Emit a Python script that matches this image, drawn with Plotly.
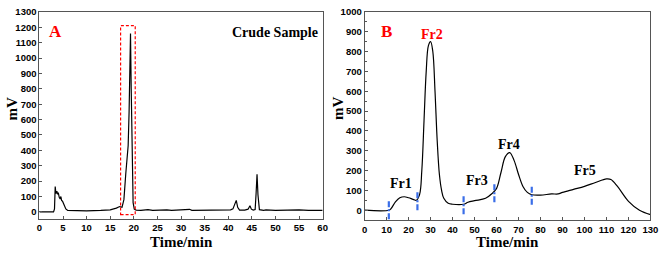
import plotly.graph_objects as go

# Panel A: crude sample chromatogram
a_time = [0, 3.0, 3.2, 3.35, 3.5, 3.7, 3.85, 4.0, 4.2, 4.4, 4.55, 4.7, 4.9, 5.2, 5.6, 6.0, 7, 10, 13, 15, 16.3, 17.0, 17.5,
          17.9, 18.3, 18.6, 18.8, 19.0, 19.15, 19.3, 19.45, 19.65, 19.85, 20.1, 20.5, 21.5, 23, 24, 27, 28, 31.8, 32.3,
          35, 38, 39, 40.5, 41.0, 41.4, 41.7, 42.0, 42.4, 43.5, 44.2, 44.6, 44.9, 45.3, 45.7, 45.9, 46.1, 46.3, 46.6,
          47.5, 48, 50, 52, 53.5, 55, 57, 60]
a_mv = [0, 0, 20, 165, 120, 135, 115, 125, 95, 85, 100, 75, 70, 45, 20, 10, 9, 7, 10, 14, 25, 35, 30,
        80, 250, 370, 430, 650, 1000, 1160, 800, 350, 60, 18, 12, 10, 15, 10, 14, 10, 17, 10,
        10, 13, 10, 14, 20, 50, 75, 30, 12, 12, 18, 40, 18, 12, 15, 120, 245, 110, 15,
        10, 13, 10, 13, 12, 13, 10, 10]

# Panel B: fractionation chromatogram
b_time = [0, 11, 12, 14, 16, 18, 20, 22, 23.5, 25, 26, 27, 28, 29, 30, 31, 32, 33, 34, 35, 36, 38, 40, 45, 47,
          50, 55, 58, 60, 62, 64, 66, 68, 70, 72, 74, 76, 80, 85, 88, 90, 95, 100, 105, 110, 112, 115, 120, 125, 130]
b_mv = [0, 0, 8, 42, 63, 68, 63, 55, 50, 80, 200, 450, 700, 830, 850, 800, 600, 350, 180, 100, 60, 35, 30, 30, 40,
        48, 60, 85, 110, 190, 270, 290, 250, 180, 120, 90, 78, 76, 82, 82, 90, 105, 120, 140, 158, 155, 120, 45, 0, -22]

cut_times = [11, 24, 45, 59, 76]
cut_centers = [5, 50, 30, 90, 78]

frac_labels = ["Fr1", "Fr2", "Fr3", "Fr4", "Fr5"]
frac_x = [16.7, 30.6, 51, 65.6, 100]
frac_y = [135, 887, 148, 331, 201]
frac_colors = ["black", "red", "black", "black", "black"]

box_x = [17.2, 20.3]
box_y = [-18, 1210]

fig = go.Figure()
fig.add_trace(go.Scatter(x=a_time, y=a_mv, mode="lines", line=dict(color="black", width=1.2),
                         xaxis="x", yaxis="y", showlegend=False))
fig.add_trace(go.Scatter(x=b_time, y=b_mv, mode="lines", line=dict(color="black", width=1.2, shape="spline"),
                         xaxis="x2", yaxis="y2", showlegend=False))

for t, c in zip(cut_times, cut_centers):
    fig.add_trace(go.Scatter(x=[t, t], y=[c - 50, c + 50], mode="lines",
                             line=dict(color="#3a6ee8", width=2.2, dash="6px,2px,2px,2px"),
                             xaxis="x2", yaxis="y2", showlegend=False))

fig.add_shape(type="rect", xref="x", yref="y", x0=box_x[0], x1=box_x[1], y0=box_y[0], y1=box_y[1],
              line=dict(color="red", width=1.2, dash="3px,2px"))

serif = "Liberation Serif"
sans = "Liberation Sans"
anc = dict(xanchor="center", yanchor="middle", showarrow=False)

for lab, x, y, col in zip(frac_labels, frac_x, frac_y, frac_colors):
    fig.add_annotation(x=x, y=y, xref="x2", yref="y2", text="<b>%s</b>" % lab,
                       font=dict(family=serif, size=14, color=col), **anc)

fig.add_annotation(x=3.5, y=1174, xref="x", yref="y", text="<b>A</b>",
                   font=dict(family=serif, size=17, color="red"), **anc)
fig.add_annotation(x=50, y=1168, xref="x", yref="y", text="<b>Crude Sample</b>",
                   font=dict(family=serif, size=14, color="black"), **anc)
fig.add_annotation(x=10, y=903, xref="x2", yref="y2", text="<b>B</b>",
                   font=dict(family=serif, size=17, color="red"), **anc)

for xp in [9 / 669, 340 / 669]:
    fig.add_annotation(x=xp, y=1 - 105 / 255, xref="paper", yref="paper", text="<b>mV</b>", textangle=-90,
                       font=dict(family=serif, size=15, color="black"), **anc)
for xp in [181 / 669, 513 / 669]:
    fig.add_annotation(x=xp, y=1 - 242 / 255, xref="paper", yref="paper", text="<b>Time/min</b>",
                       font=dict(family=serif, size=15, color="black"), **anc)

axis_common = dict(showgrid=False, zeroline=False, showline=True, mirror=True, linecolor="#555",
                   linewidth=1, ticks="inside", ticklen=3, tickcolor="#555", ticklabeloverflow="allow",
                   tickfont=dict(family=sans, size=9.5, color="black", weight="bold"),
                   minor=dict(ticks="inside", ticklen=2, tickcolor="#555"))

fig.update_layout(
    width=669, height=255, margin=dict(l=0, r=0, t=0, b=0),
    plot_bgcolor="white", paper_bgcolor="white",
    xaxis=dict(domain=[37 / 669, 325 / 669], range=[0, 60], tickvals=list(range(0, 61, 5)), anchor="y",
               **axis_common),
    yaxis=dict(domain=[37 / 255, 249 / 255], range=[-45, 1300], tickvals=list(range(0, 1301, 100)),
               anchor="x", **axis_common),
    xaxis2=dict(domain=[367.7 / 669, 658.3 / 669], range=[0, 130], tickvals=list(range(0, 131, 10)),
                anchor="y2", **axis_common),
    yaxis2=dict(domain=[35.7 / 255, 249 / 255], range=[-50, 1000], tickvals=list(range(0, 1001, 100)),
                anchor="x2", **axis_common),
)

fig.write_html("out.html", config={"displayModeBar": False},
               post_script="document.body.style.margin='0';document.body.style.padding='0';"
                           "document.documentElement.style.overflow='hidden';")
